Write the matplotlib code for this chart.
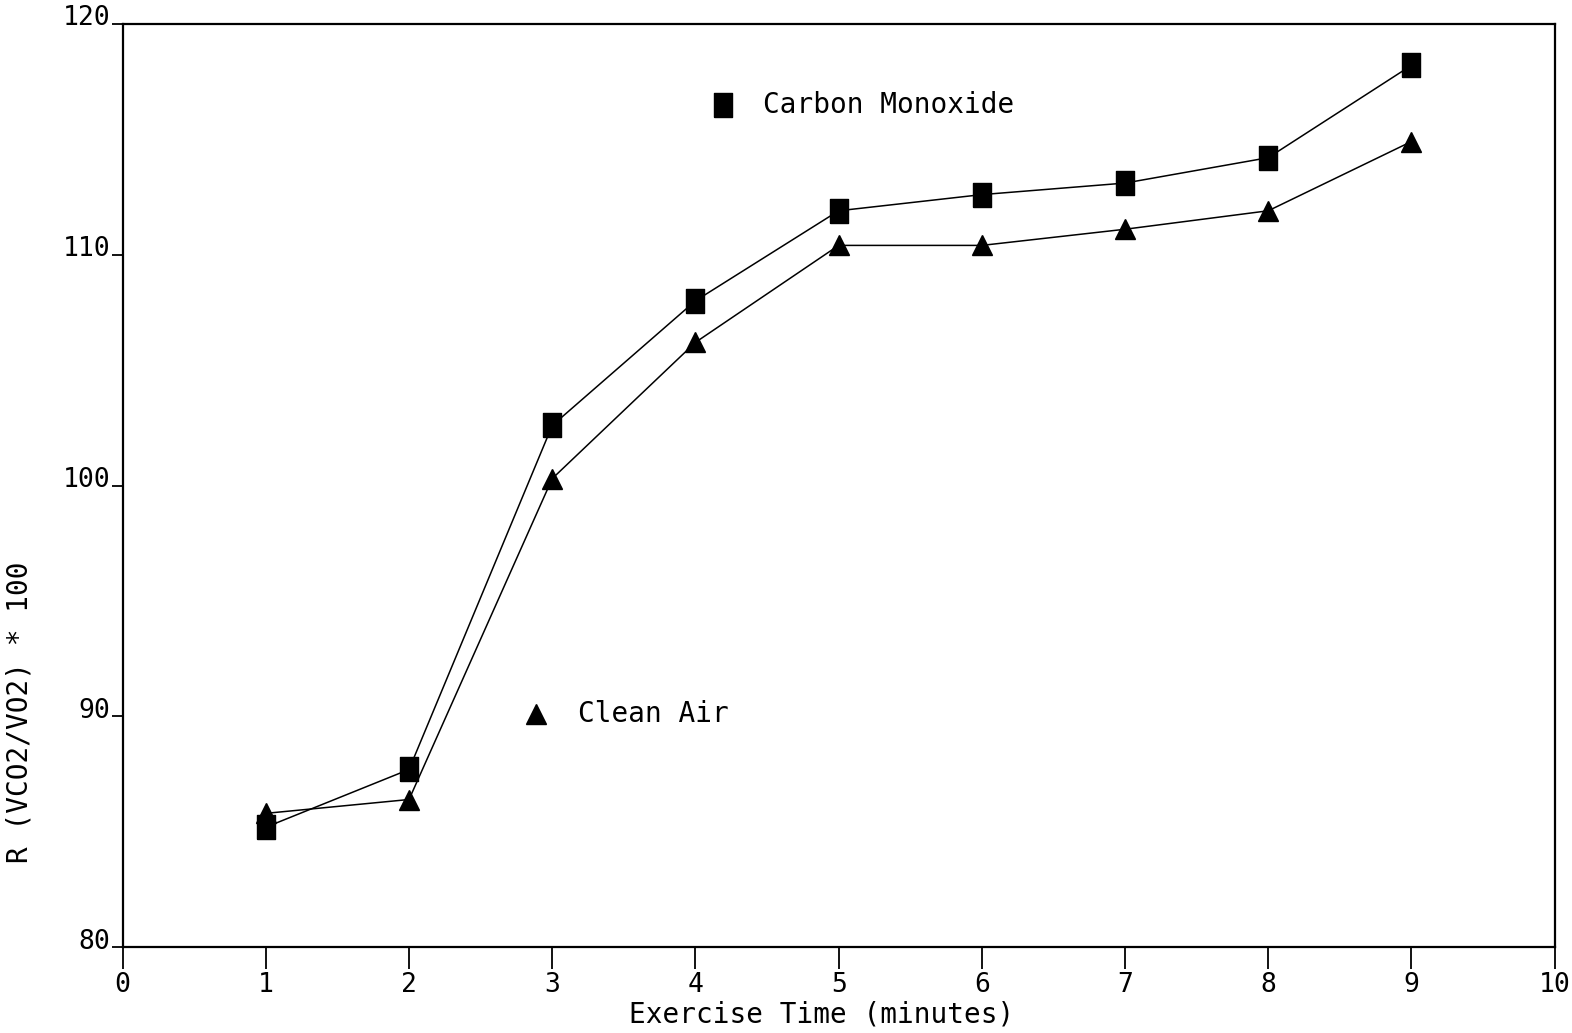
import matplotlib.pyplot as plt
import matplotlib.transforms as mtransforms
import numpy as np

plt.rcParams.update({'font.family': 'DejaVu Sans Mono'})

minutes = [1, 2, 3, 4, 5, 6, 7, 8, 9]
carbon_monoxide = [85.2, 87.7, 102.6, 108.0, 111.9, 112.6, 113.1, 114.2, 118.2]
clean_air = [85.8, 86.4, 100.3, 106.2, 110.4, 110.4, 111.1, 111.9, 114.9]

xticks = np.arange(0, 11)
yticks = [80, 90, 100, 110, 120]

# plotter squares are a bit taller than wide
tall_square = [(-0.37, -0.5), (0.37, -0.5), (0.37, 0.5), (-0.37, 0.5), (-0.37, -0.5)]

fig = plt.figure(figsize=(15.72, 10.33), dpi=100)
ax = fig.add_axes([0.078, 0.083, 0.911, 0.894])

ax.plot(minutes, carbon_monoxide, color='black', linewidth=1.1,
        marker=tall_square, markersize=17, markerfacecolor='black', markeredgecolor='black')
ax.plot(minutes, clean_air, color='black', linewidth=1.1,
        marker='^', markersize=15, markerfacecolor='black', markeredgecolor='black')

# labels drawn inside the plot, as on the original
ax.plot([4.19], [116.5], marker=tall_square, markersize=17, color='black', linestyle='none')
ax.text(4.47, 116.5, "Carbon Monoxide", fontsize=20, va='center', ha='left')
ax.plot([2.89], [90.1], marker='^', markersize=15, color='black', linestyle='none')
ax.text(3.18, 90.1, "Clean Air", fontsize=20, va='center', ha='left')

ax.set_xlim(0, 10)
ax.set_ylim(80, 120)
ax.set_xticks(xticks)
ax.set_yticks(yticks)
ax.tick_params(axis='x', direction='out', length=16, width=1.3, pad=2, labelsize=19)
ax.tick_params(axis='y', direction='out', length=8, width=1.3, pad=1, labelsize=19)
for spine in ax.spines.values():
    spine.set_linewidth(1.6)

# plotter style: y labels sit on top of the tick
offset = mtransforms.ScaledTranslation(0, 6 / 72, fig.dpi_scale_trans)
for lbl in ax.get_yticklabels():
    lbl.set_transform(lbl.get_transform() + offset)

fig.text(822 / 1572, 1 - 1015 / 1033, "Exercise Time (minutes)", fontsize=20,
         ha='center', va='center')
fig.text(20 / 1572, 1 - 712 / 1033, "R (VCO2/VO2) * 100", fontsize=20,
         ha='center', va='center', rotation=90)

fig.savefig("out.png", dpi=100)
